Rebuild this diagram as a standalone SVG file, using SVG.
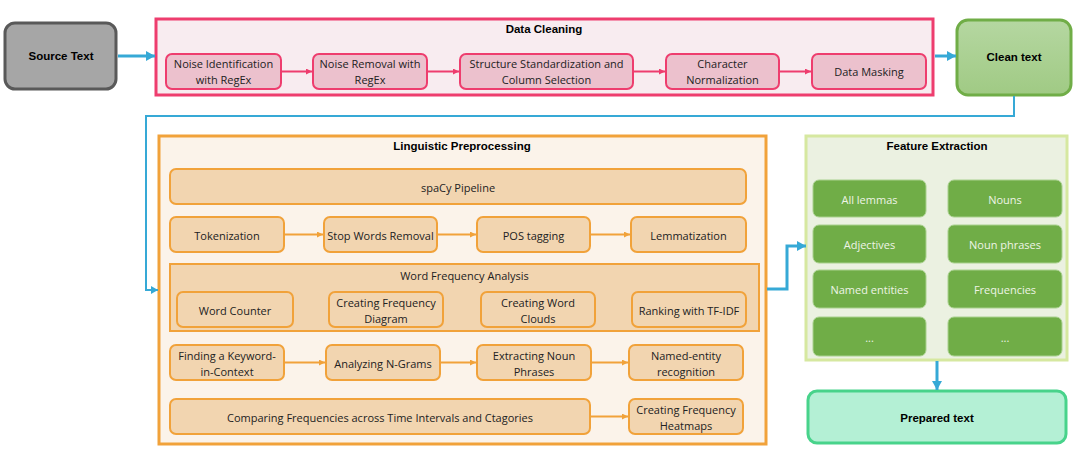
<svg xmlns="http://www.w3.org/2000/svg" width="1082" height="457" viewBox="0 0 1082 457">
<defs>
<style>
text{font-family:"Open Sans","Noto Sans","Liberation Sans",sans-serif;font-size:11px;fill:#222;text-anchor:middle;dominant-baseline:central}
.b{font-family:"Liberation Sans","Open Sans",sans-serif;font-weight:bold;font-size:11.5px;fill:#000}
.pk{fill:#ecc1cd;stroke:#ee3d6e;stroke-width:2}
.or{fill:#f2d5b0;stroke:#f1a23a;stroke-width:2}
.gr{fill:#70ad47;stroke:#a9d18e;stroke-width:1}
.gt{fill:#eef4e6}
.cp{fill:none;stroke:#ee3d6e;stroke-width:2}
.co{fill:none;stroke:#f1a23a;stroke-width:2}
.cb{fill:none;stroke:#36a9d6}
</style>
<marker id="ap" markerWidth="8" markerHeight="8" refX="6" refY="3" orient="auto" markerUnits="userSpaceOnUse"><path d="M0,0 L6,3 L0,6 z" fill="#ee3d6e"/></marker>
<marker id="ao" markerWidth="8" markerHeight="8" refX="6" refY="3" orient="auto" markerUnits="userSpaceOnUse"><path d="M0,0 L6,3 L0,6 z" fill="#f1a23a"/></marker>
<marker id="ab" markerWidth="12" markerHeight="12" refX="9" refY="5" orient="auto" markerUnits="userSpaceOnUse"><path d="M0,0 L9,5 L0,10 z" fill="#36a9d6"/></marker>
<marker id="abs" markerWidth="10" markerHeight="10" refX="7" refY="4" orient="auto" markerUnits="userSpaceOnUse"><path d="M0,0 L7,4 L0,8 z" fill="#36a9d6"/></marker>
<linearGradient id="gclean" x1="0" y1="0" x2="0" y2="1"><stop offset="0" stop-color="#b5d7a1"/><stop offset="1" stop-color="#a0ca84"/></linearGradient>
</defs>

<g id="source-text">
<rect x="5" y="23" width="111" height="66" rx="10" fill="#a6a6a6" stroke="#595959" stroke-width="3"/>
<text class="b" x="61" y="56">Source Text</text>
</g>

<g id="data-cleaning">
<rect x="156" y="19" width="777" height="76" fill="#f8ecf0" stroke="#ee3d6e" stroke-width="3"/>
<text class="b" x="544" y="29">Data Cleaning</text>
</g>
<g id="noise-identification"><rect class="pk" x="166" y="54" width="115" height="35" rx="6"/><text x="223.5" y="63">Noise Identification</text><text x="223.5" y="79">with RegEx</text></g>
<g id="noise-removal"><rect class="pk" x="313" y="54" width="114" height="35" rx="6"/><text x="370" y="63">Noise Removal with</text><text x="370" y="79">RegEx</text></g>
<g id="structure-standardization"><rect class="pk" x="460" y="54" width="173" height="35" rx="6"/><text x="546.5" y="63">Structure Standardization and</text><text x="546.5" y="79">Column Selection</text></g>
<g id="character-normalization"><rect class="pk" x="666" y="54" width="113" height="35" rx="6"/><text x="722.5" y="63">Character</text><text x="722.5" y="79">Normalization</text></g>
<g id="data-masking"><rect class="pk" x="812" y="54" width="114" height="35" rx="6"/><text x="869" y="71">Data Masking</text></g>

<g id="clean-text">
<rect x="957" y="20" width="114" height="75" rx="11" fill="url(#gclean)" stroke="#70ad47" stroke-width="3"/>
<text class="b" x="1014" y="57">Clean text</text>
</g>

<g id="linguistic-preprocessing">
<rect x="159" y="136" width="607" height="308" fill="#fbf3ea" stroke="#f1a23a" stroke-width="3"/>
<text class="b" x="462" y="146">Linguistic Preprocessing</text>
</g>
<g id="spacy-pipeline"><rect class="or" x="170" y="169" width="576" height="35" rx="6"/><text x="458" y="187">spaCy Pipeline</text></g>
<g id="tokenization"><rect class="or" x="170" y="217" width="114" height="35" rx="6"/><text x="227" y="235">Tokenization</text></g>
<g id="stop-words-removal"><rect class="or" x="324" y="217" width="113" height="35" rx="6"/><text x="380.5" y="235">Stop Words Removal</text></g>
<g id="pos-tagging"><rect class="or" x="477" y="217" width="113" height="35" rx="6"/><text x="533.5" y="235">POS tagging</text></g>
<g id="lemmatization"><rect class="or" x="631" y="217" width="115" height="35" rx="6"/><text x="688.5" y="235">Lemmatization</text></g>

<g id="word-frequency-analysis">
<rect x="170" y="264" width="589" height="67" fill="#f2d5b0" stroke="#f1a23a" stroke-width="2"/>
<text x="464.5" y="275">Word Frequency Analysis</text>
</g>
<g id="word-counter"><rect class="or" x="177" y="292" width="116" height="35" rx="6"/><text x="235" y="310">Word Counter</text></g>
<g id="creating-frequency-diagram"><rect class="or" x="329" y="292" width="114" height="35" rx="6"/><text x="386" y="302">Creating Frequency</text><text x="386" y="318">Diagram</text></g>
<g id="creating-word-clouds"><rect class="or" x="481" y="292" width="114" height="35" rx="6"/><text x="538" y="302">Creating Word</text><text x="538" y="318">Clouds</text></g>
<g id="ranking-tfidf"><rect class="or" x="632" y="292" width="114" height="35" rx="6"/><text x="689" y="310">Ranking with TF-IDF</text></g>

<g id="keyword-in-context"><rect class="or" x="170" y="345" width="114" height="35" rx="6"/><text x="227" y="355">Finding a Keyword-</text><text x="227" y="371">in-Context</text></g>
<g id="n-grams"><rect class="or" x="326" y="345" width="114" height="35" rx="6"/><text x="383" y="363">Analyzing N-Grams</text></g>
<g id="noun-phrases"><rect class="or" x="477" y="345" width="114" height="35" rx="6"/><text x="534" y="355">Extracting Noun</text><text x="534" y="371">Phrases</text></g>
<g id="ner"><rect class="or" x="629" y="345" width="114" height="35" rx="6"/><text x="686" y="355">Named-entity</text><text x="686" y="371">recognition</text></g>

<g id="comparing-frequencies"><rect class="or" x="170" y="399" width="420" height="35" rx="6"/><text x="380" y="417">Comparing Frequencies across Time Intervals and Ctagories</text></g>
<g id="frequency-heatmaps"><rect class="or" x="629" y="399" width="114" height="35" rx="6"/><text x="686" y="409">Creating Frequency</text><text x="686" y="425">Heatmaps</text></g>

<g id="feature-extraction">
<rect x="806" y="136" width="261" height="224" fill="#ebf1e1" stroke="#d6e8a0" stroke-width="3"/>
<text class="b" x="937" y="146">Feature Extraction</text>
</g>
<g id="all-lemmas"><rect class="gr" x="813" y="180" width="113" height="37" rx="6"/><text class="gt" x="869.5" y="199">All lemmas</text></g>
<g id="nouns"><rect class="gr" x="948" y="180" width="114" height="37" rx="6"/><text class="gt" x="1005" y="199">Nouns</text></g>
<g id="adjectives"><rect class="gr" x="813" y="225" width="113" height="38" rx="6"/><text class="gt" x="869.5" y="244">Adjectives</text></g>
<g id="noun-phrases-feat"><rect class="gr" x="948" y="225" width="114" height="38" rx="6"/><text class="gt" x="1005" y="244">Noun phrases</text></g>
<g id="named-entities"><rect class="gr" x="813" y="270" width="113" height="38" rx="6"/><text class="gt" x="869.5" y="289">Named entities</text></g>
<g id="frequencies"><rect class="gr" x="948" y="270" width="114" height="38" rx="6"/><text class="gt" x="1005" y="289">Frequencies</text></g>
<g id="more-left"><rect class="gr" x="813" y="317" width="113" height="39" rx="6"/><text class="gt" x="869.5" y="337">...</text></g>
<g id="more-right"><rect class="gr" x="948" y="317" width="114" height="39" rx="6"/><text class="gt" x="1005" y="337">...</text></g>

<g id="prepared-text">
<rect x="808" y="391" width="258" height="52" rx="9" fill="#b4f0d5" stroke="#48d38b" stroke-width="3"/>
<text class="b" x="937" y="418">Prepared text</text>
</g>

<g id="connectors">
<line class="cb" x1="118" y1="56" x2="155" y2="56" stroke-width="3" marker-end="url(#ab)"/>
<line class="cb" x1="935" y1="56" x2="956" y2="56" stroke-width="3" marker-end="url(#ab)"/>
<polyline class="cb" points="1014,96 1014,116 146,116 146,290 158,290" stroke-width="2" marker-end="url(#abs)"/>
<polyline class="cb" points="767,289 787,289 787,246 806,246" stroke-width="3" marker-end="url(#ab)"/>
<line class="cb" x1="937" y1="361" x2="937" y2="390" stroke-width="3" marker-end="url(#ab)"/>
<line class="cp" x1="281" y1="71.5" x2="312" y2="71.5" marker-end="url(#ap)"/>
<line class="cp" x1="427" y1="71.5" x2="459" y2="71.5" marker-end="url(#ap)"/>
<line class="cp" x1="633" y1="71.5" x2="665" y2="71.5" marker-end="url(#ap)"/>
<line class="cp" x1="779" y1="71.5" x2="811" y2="71.5" marker-end="url(#ap)"/>
<line class="co" x1="284" y1="234.5" x2="323" y2="234.5" marker-end="url(#ao)"/>
<line class="co" x1="437" y1="234.5" x2="476" y2="234.5" marker-end="url(#ao)"/>
<line class="co" x1="590" y1="234.5" x2="630" y2="234.5" marker-end="url(#ao)"/>
<line class="co" x1="284" y1="362.5" x2="325" y2="362.5" marker-end="url(#ao)"/>
<line class="co" x1="440" y1="362.5" x2="476" y2="362.5" marker-end="url(#ao)"/>
<line class="co" x1="591" y1="362.5" x2="628" y2="362.5" marker-end="url(#ao)"/>
<line class="co" x1="590" y1="416.5" x2="628" y2="416.5" marker-end="url(#ao)"/>
</g>
</svg>
